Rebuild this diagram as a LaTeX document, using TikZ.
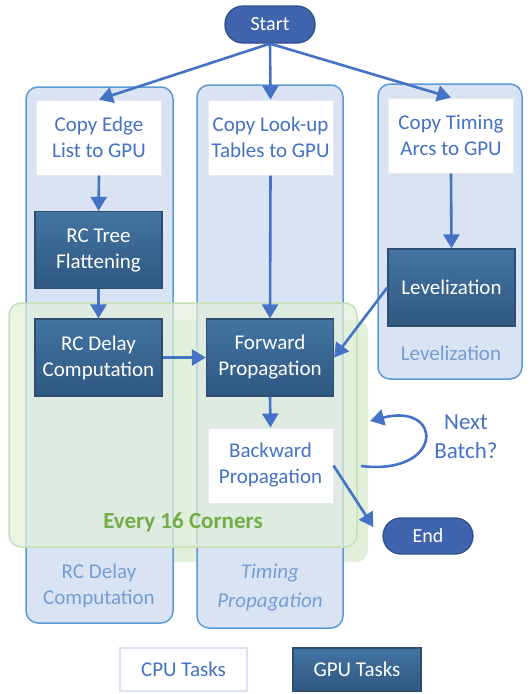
\documentclass[tikz,border=0pt]{standalone}
\usepackage{fontspec}
\setmainfont{Carlito}
\usetikzlibrary{arrows.meta,calc}
\definecolor{ablue}{RGB}{68,114,196}
\definecolor{lanefill}{RGB}{218,227,243}
\definecolor{laneborder}{RGB}{91,155,213}
\definecolor{lanetext}{RGB}{114,158,214}
\definecolor{gfill}{RGB}{226,239,218}
\definecolor{gborder}{RGB}{197,224,180}
\definecolor{gtext}{RGB}{112,173,71}
\definecolor{gputop}{RGB}{67,116,162}
\definecolor{gpubot}{RGB}{47,88,128}
\definecolor{gpuborder}{RGB}{45,78,110}
\definecolor{pillfill}{RGB}{63,100,173}
\definecolor{pillborder}{RGB}{47,79,143}
\definecolor{cpuborder}{RGB}{228,234,246}
\tikzset{
  x=1pt,y=-1pt,
  txt/.style={font=\fontsize{21}{26}\selectfont, align=center},
  cpubox/.style={txt, fill=white, draw=cpuborder, line width=1pt, text=ablue, minimum width=125pt, minimum height=75pt, inner sep=0pt},
  gpubox/.style={txt, top color=gputop, bottom color=gpubot, draw=gpuborder, line width=1.3pt, text=white, minimum width=127pt, minimum height=77pt, inner sep=0pt},
  pill/.style={fill=pillfill, draw=pillborder, line width=1.3pt, rounded corners=18pt, text=white, font=\fontsize{20}{24}\selectfont, minimum width=90pt, minimum height=37pt, inner sep=0pt},
  lane/.style={fill=lanefill, draw=laneborder, line width=1.5pt, rounded corners=12pt},
  lanelabel/.style={txt, text=lanetext},
  flow/.style={draw=ablue, line width=2.6pt, -{Triangle[length=14pt,width=16pt]}},
}
\begin{document}
\begin{tikzpicture}
\useasboundingbox (0,0) rectangle (531,694);
% back green layer (behind lanes)
\fill[gfill, rounded corners=12pt] (25,320) rectangle (368,562);
% lanes
\draw[lane] (26,87) rectangle (173,623);
\draw[lane] (197,85) rectangle (343,628);
\draw[lane] (378,84) rectangle (522,379);
% front green area
\fill[gfill, fill opacity=0.72, rounded corners=12pt] (9,303) rectangle (357,547);
\draw[gborder, line width=1.5pt, rounded corners=12pt] (9,303) rectangle (357,547);
% lane labels
\node[lanelabel] (lbl1) at (99,586) {RC Delay\\Computation};
\node[lanelabel, font=\fontsize{21}{29}\selectfont\itshape] (lbl2) at (270,588) {Timing\\Propagation};
\node[lanelabel] (lbl3) at (451,353) {Levelization};
\node[txt, text=gtext, font=\fontsize{23}{26}\selectfont\bfseries] (every) at (183,522) {Every 16 Corners};
% nodes
\node[pill] (start) at (270,24.5) {Start};
\node[cpubox] (ce) at (99,137.5) {Copy Edge\\List to GPU};
\node[cpubox] (cl) at (270.5,137.5) {Copy Look-up\\Tables to GPU};
\node[cpubox] (ct) at (451,135.5) {Copy Timing\\Arcs to GPU};
\node[gpubox] (rt) at (98.5,250) {RC Tree\\Flattening};
\node[gpubox] (lv) at (451.5,287.5) {Levelization};
\node[gpubox] (rd) at (98.5,357.5) {RC Delay\\Computation};
\node[gpubox] (fp) at (270,357.5) {Forward\\Propagation};
\node[cpubox] (bp) at (270.5,465.5) {Backward\\Propagation};
\node[pill, minimum height=36pt] (end) at (428,536) {End};
\node[txt, text=ablue, font=\fontsize{23}{29}\selectfont] (next) at (466,437) {Next\\Batch?};
% legend
\node[cpubox, draw=lanefill, line width=1.5pt, minimum width=127pt, minimum height=43pt] (cpu) at (183.5,669.5) {CPU Tasks};
\node[gpubox, minimum width=128pt, minimum height=43pt] (gpu) at (357,669.5) {GPU Tasks};
% arrows
\draw[flow] (start.south) -- (ce.north);
\draw[flow] (start.south) -- (cl.north);
\draw[flow] (start.south) -- (ct.north);
\draw[flow] (ce.south) -- (rt.north);
\draw[flow] (cl.south) -- (fp.north);
\draw[flow] (ct.south) -- (lv.north);
\draw[flow] (rt.south) -- (rd.north);
\draw[flow] (lv.west) -- (fp.east);
\draw[flow] (rd.east) -- (fp.west);
\draw[flow] (fp.south) -- (bp.north);
\draw[flow] (bp.east) -- ([xshift=-9pt,yshift=9pt]end.west);
\coordinate (ls) at (361,466);
\coordinate (le) at (370,421);
\draw[flow] (ls) .. controls (444,476) and (444,402) .. (le);
\end{tikzpicture}
\end{document}
